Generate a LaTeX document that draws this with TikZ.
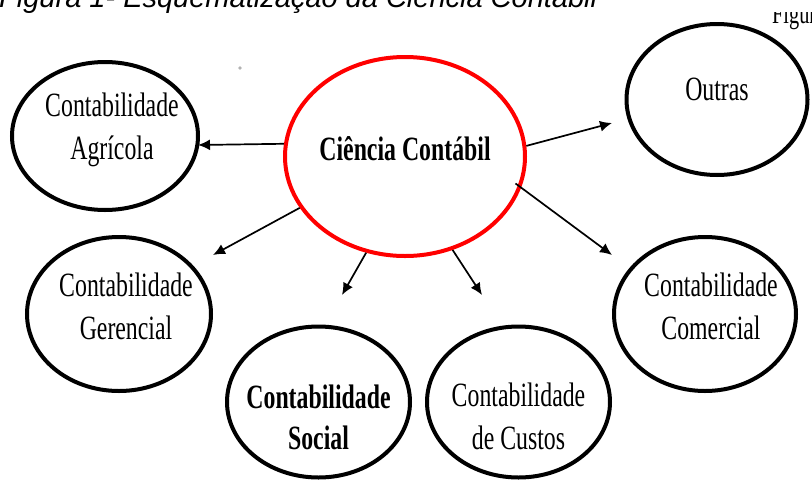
\documentclass[tikz,border=0pt]{standalone}
\usepackage{fontspec}
\setmainfont{Liberation Serif}[FakeStretch=0.7]
\newfontfamily\captionfont{Liberation Sans}
\usepackage{tikz}
\usetikzlibrary{arrows.meta, shapes.geometric}

\begin{document}
\begin{tikzpicture}[x=1pt, y=-1pt,
    oval/.style={ellipse, draw=black, line width=4pt, inner sep=0pt},
    ovaltext/.style={font=\fontsize{34}{43}\selectfont, align=center, inner sep=0pt},
    boldtext/.style={font=\fontsize{34}{41}\selectfont\bfseries, align=center, inner sep=0pt},
    arr/.style={line width=1.7pt, -{Latex[length=12pt,width=11pt]}}]

      % Page of the reference (812 x 480 px, y goes down)
      \useasboundingbox (0,0) rectangle (812,480);
      \clip (0,0) rectangle (812,480);

      % Caption, cut off at the top
      \node[anchor=base west, inner sep=0pt, font=\captionfont\itshape\fontsize{29}{34}\selectfont]
           (caption) at (-1,7.5) {Figura 1- Esquematização da Ciência Contábil};
      \begin{scope}
        \clip (760,12) rectangle (812,40);
        \node[anchor=base west, inner sep=0pt, font=\fontsize{29}{34}\selectfont]
             (capfrag) at (772,23) {Figura};
      \end{scope}
      \fill[gray!60] (240,68) circle (1.8pt); % stray dot

      % Ellipses
      \node[oval, draw=red, minimum width=240pt, minimum height=199pt] (cc)  at (405,156.5) {};
      \node[oval, minimum width=186pt, minimum height=148pt]           (agr) at (105,136)   {};
      \node[oval, minimum width=181pt, minimum height=151pt]           (out) at (717,99.5)  {};
      \node[oval, minimum width=184pt, minimum height=154pt]           (ger) at (119,314)   {};
      \node[oval, minimum width=182pt, minimum height=154pt]           (com) at (705,314)   {};
      \node[oval, minimum width=183pt, minimum height=151pt]           (soc) at (318.5,402) {};
      \node[oval, minimum width=183pt, minimum height=151pt]           (cus) at (518.5,402) {};

      % Texts
      \node[boldtext] (cctext)  at ([yshift=7.5pt]cc.center)            {Ciência Contábil};
      \node[ovaltext] (agrtext) at ([xshift=7pt, yshift=6pt]agr.center) {Contabilidade\\Agrícola};
      \node[ovaltext] (outtext) at ([yshift=10pt]out.center)            {Outras};
      \node[ovaltext] (gertext) at ([xshift=7pt, yshift=8pt]ger.center) {Contabilidade\\Gerencial};
      \node[ovaltext] (comtext) at ([xshift=6pt, yshift=8pt]com.center) {Contabilidade\\Comercial};
      \node[boldtext] (soctext) at ([yshift=-15.5pt]soc.center)         {Contabilidade\\Social};
      \node[ovaltext] (custext) at ([yshift=-14.5pt]cus.center)         {Contabilidade\\de Custos};

      % Arrow tips, they stop short of the ellipses
      \coordinate (agrtip) at (198,145);
      \coordinate (outtip) at (612,123);
      \coordinate (comtip) at (612,255);
      \coordinate (gertip) at (213,255);
      \coordinate (soctip) at (342,295);
      \coordinate (custip) at (482,295);

      % Arrows
      \draw[arr] (cc.174.6) -- (agrtip);
      \draw[arr] (cc.5.5)   -- (outtip);
      \draw[arr, shorten <=-7pt] (cc.-15.9) -- (comtip);
      \draw[arr] (cc.206.3) -- (gertip);
      \draw[arr] (cc.248.8) -- (soctip);
      \draw[arr] (cc.297.6) -- (custip);
  \end{tikzpicture}
\end{document}
